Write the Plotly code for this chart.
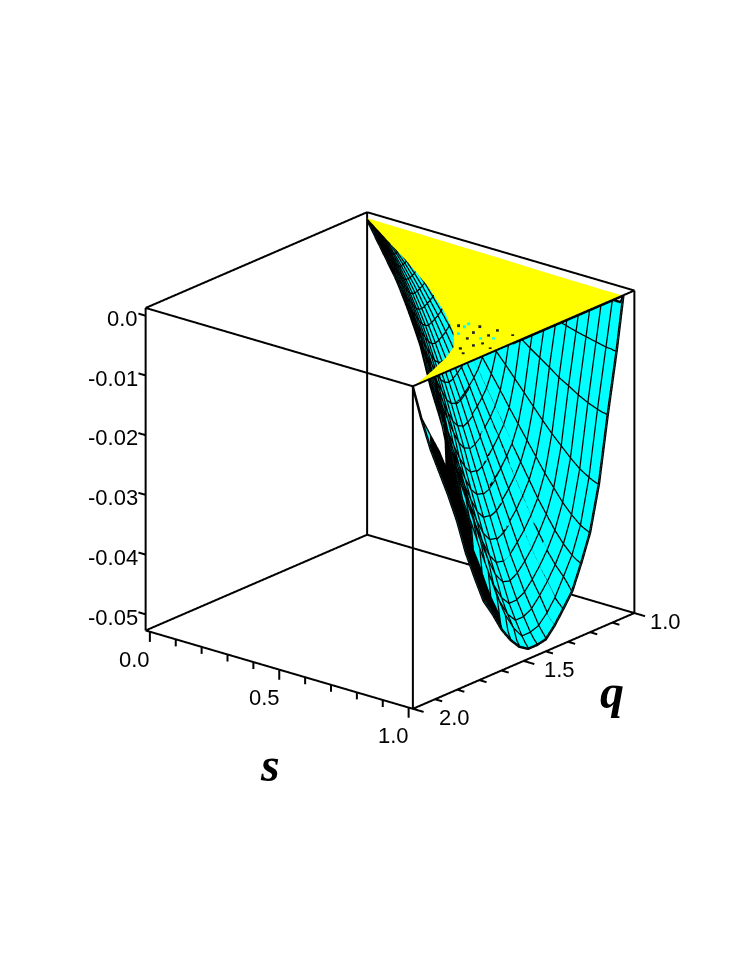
import plotly.graph_objects as go

# Values
S_TICKS = [0.0, 0.1, 0.2, 0.3, 0.4, 0.5, 0.6, 0.7, 0.8, 0.9, 1.0]
S_LABELS = ["0.0", "0.5", "1.0"]
S_LABEL_AT = [0.0, 0.5, 1.0]
Q_TICKS = [2.0, 1.9, 1.8, 1.7, 1.6, 1.5, 1.4, 1.3, 1.2, 1.1, 1.0]
Q_LABELS = ["2.0", "1.5", "1.0"]
Q_LABEL_AT = [2.0, 1.5, 1.0]
Q_LABEL_SHIFT = [42, 36, 31]
Z_TICKS = [0.0, -0.01, -0.02, -0.03, -0.04, -0.05]
Z_LABELS = ["0.0", "-0.01", "-0.02", "-0.03", "-0.04", "-0.05"]
Z_RANGE = [-0.0527, 0.0013]

# mesh: q = 1 + t * s
T_COLS = [0.05, 0.08, 0.12, 0.16, 0.20, 0.24, 0.28, 0.32, 0.36, 0.40, 0.44, 0.48, 0.52,
          0.56, 0.60, 0.64, 0.68, 0.72, 0.76, 0.80, 0.84, 0.88, 0.92, 0.96, 1.00]
S_ROWS = [0.0, 0.04, 0.08, 0.12, 0.16, 0.20, 0.24, 0.28, 0.32, 0.36, 0.40, 0.44, 0.48, 0.52,
          0.56, 0.60, 0.64, 0.68, 0.72, 0.76, 0.80, 0.84, 0.88, 0.92, 0.96, 0.98, 0.99, 1.00]
Z_ROWS = [
 [0,0,0,0,0,0,0,0,0,0,0,0,0,0,0,0,0,0,0,0,0],
 [0,0,-.0001,-.0002,-.0002,-.0002,-.0003,-.0003,-.0003,-.0003,-.0003,-.0003,-.0003,-.0003,-.0002,-.0002,-.0002,-.0001,-.0001,-.0001,0],
 [0,-.0001,-.0003,-.0004,-.0006,-.0006,-.0007,-.0007,-.0008,-.0008,-.0008,-.0008,-.0007,-.0007,-.0006,-.0005,-.0004,-.0004,-.0003,-.0001,0],
 [0,-.0002,-.0006,-.0009,-.0011,-.0013,-.0014,-.0014,-.0015,-.0016,-.0016,-.0016,-.0015,-.0014,-.0012,-.0011,-.0009,-.0007,-.0005,-.0003,-.0001],
 [0,-.0004,-.0009,-.0015,-.0018,-.0021,-.0022,-.0024,-.0025,-.0025,-.0026,-.0025,-.0024,-.0022,-.0020,-.0017,-.0015,-.0012,-.0009,-.0005,-.0001],
 [0,-.0006,-.0013,-.0021,-.0027,-.0030,-.0032,-.0034,-.0036,-.0037,-.0038,-.0037,-.0035,-.0032,-.0029,-.0025,-.0021,-.0018,-.0013,-.0007,-.0002],
 [0,-.0008,-.0018,-.0029,-.0037,-.0041,-.0044,-.0047,-.0049,-.0051,-.0051,-.0051,-.0048,-.0044,-.0039,-.0034,-.0029,-.0024,-.0017,-.0009,-.0002],
 [0,-.0010,-.0023,-.0038,-.0048,-.0054,-.0058,-.0061,-.0064,-.0066,-.0067,-.0066,-.0063,-.0057,-.0051,-.0045,-.0038,-.0032,-.0022,-.0012,-.0003],
 [0,-.0013,-.0030,-.0048,-.0061,-.0068,-.0074,-.0078,-.0081,-.0084,-.0085,-.0084,-.0080,-.0073,-.0065,-.0057,-.0048,-.0040,-.0028,-.0015,-.0003],
 [0,-.0016,-.0036,-.0059,-.0075,-.0084,-.0091,-.0096,-.0100,-.0103,-.0105,-.0103,-.0098,-.0090,-.0080,-.0070,-.0059,-.0050,-.0035,-.0019,-.0004],
 [0,-.0019,-.0044,-.0072,-.0090,-.0102,-.0109,-.0116,-.0121,-.0125,-.0127,-.0125,-.0118,-.0108,-.0097,-.0084,-.0072,-.0060,-.0042,-.0023,-.0005],
 [0,-.0022,-.0052,-.0085,-.0107,-.0121,-.0130,-.0137,-.0143,-.0148,-.0150,-.0148,-.0141,-.0128,-.0115,-.0100,-.0085,-.0071,-.0050,-.0027,-.0006],
 [0,-.0026,-.0061,-.0100,-.0126,-.0142,-.0152,-.0161,-.0168,-.0174,-.0176,-.0173,-.0165,-.0150,-.0134,-.0117,-.0100,-.0083,-.0059,-.0031,-.0007],
 [0,-.0030,-.0071,-.0115,-.0145,-.0163,-.0175,-.0185,-.0193,-.0200,-.0203,-.0200,-.0190,-.0173,-.0155,-.0135,-.0115,-.0096,-.0068,-.0036,-.0008],
 [0,-.0035,-.0081,-.0132,-.0166,-.0187,-.0201,-.0212,-.0222,-.0229,-.0233,-.0229,-.0217,-.0199,-.0177,-.0155,-.0132,-.0110,-.0078,-.0041,-.0009],
 [0,-.0039,-.0091,-.0148,-.0187,-.0211,-.0227,-.0240,-.0250,-.0258,-.0262,-.0258,-.0245,-.0224,-.0200,-.0175,-.0148,-.0124,-.0087,-.0047,-.0011],
 [0,-.0043,-.0101,-.0165,-.0209,-.0235,-.0252,-.0267,-.0278,-.0288,-.0292,-.0290,-.0277,-.0257,-.0232,-.0205,-.0177,-.0149,-.0115,-.0072,-.0030],
 [0,-.0048,-.0112,-.0182,-.0230,-.0259,-.0278,-.0294,-.0306,-.0317,-.0322,-.0319,-.0306,-.0283,-.0256,-.0226,-.0195,-.0164,-.0127,-.0080,-.0033],
 [0,-.0052,-.0122,-.0199,-.0251,-.0283,-.0304,-.0321,-.0335,-.0346,-.0351,-.0349,-.0334,-.0309,-.0280,-.0246,-.0213,-.0179,-.0138,-.0087,-.0036],
 [0,-.0057,-.0132,-.0216,-.0272,-.0306,-.0329,-.0348,-.0363,-.0375,-.0381,-.0378,-.0362,-.0335,-.0303,-.0267,-.0231,-.0194,-.0150,-.0094,-.0039],
 [0,-.0061,-.0143,-.0232,-.0293,-.0330,-.0355,-.0375,-.0391,-.0405,-.0411,-.0408,-.0390,-.0361,-.0327,-.0288,-.0249,-.0209,-.0162,-.0102,-.0042],
 [0,-.0065,-.0151,-.0246,-.0311,-.0350,-.0376,-.0398,-.0415,-.0429,-.0436,-.0432,-.0414,-.0383,-.0347,-.0305,-.0264,-.0222,-.0172,-.0108,-.0044],
 [0,-.0068,-.0160,-.0260,-.0329,-.0370,-.0398,-.0420,-.0438,-.0453,-.0460,-.0460,-.0444,-.0417,-.0381,-.0338,-.0296,-.0251,-.0209,-.0146,-.0078],
 [0,-.0071,-.0167,-.0272,-.0343,-.0386,-.0415,-.0438,-.0457,-.0473,-.0480,-.0480,-.0463,-.0435,-.0398,-.0353,-.0309,-.0262,-.0218,-.0152,-.0081],
 [0,-.0074,-.0172,-.0280,-.0354,-.0398,-.0428,-.0457,-.0478,-.0493,-.0498,-.0498,-.0478,-.0449,-.0410,-.0364,-.0319,-.0270,-.0225,-.0157,-.0084],
 [0,-.0074,-.0174,-.0283,-.0357,-.0402,-.0436,-.0463,-.0485,-.0500,-.0505,-.0505,-.0494,-.0473,-.0438,-.0401,-.0354,-.0311,-.0265,-.0210,-.0148],
 [0,-.0075,-.0174,-.0284,-.0358,-.0403,-.0441,-.0465,-.0487,-.0503,-.0507,-.0507,-.0497,-.0478,-.0452,-.0421,-.0380,-.0337,-.0290,-.0230,-.0160,-.0118,-.0085,-.0050,.0012],
 [.0012,-.0075,-.0175,-.0285,-.0360,-.0405,-.0445,-.0468,-.0490,-.0507,-.0510,-.0510,-.0500,-.0482,-.0458,-.0426,-.0398,-.0353,-.0305,-.0245,-.0195,-.0150,-.0105,-.0050,.0012],
]
# the rows packed against s=1 only show their mesh lines on the far branch
PACKED_ROWS = [0.98, 0.99]
PACKED_FROM_T = 0.68
# the far band where the mesh lines merge into solid black
BLACK_S_A = [0.80, 0.84, 0.88, 0.92, 0.96, 0.98, 0.99, 1.00]
BLACK_T_A = [0.72, 0.84]
BLACK_S_B = [0.98, 0.99, 1.00]
BLACK_T_B = [0.60, 0.92]
BLACK_LIFT = 0.0004

# flat yellow sheet near the top of the box
YELLOW_S = [0.0, 0.10, 0.20, 0.31, 0.50, 0.68, 0.80, 0.88, 0.92, 0.96, 0.98, 1.00]
YELLOW_TMAX = [0.65, 0.65, 0.65, 0.645, 0.66, 0.69, 0.72, 0.76, 0.82, 0.90, 0.95, 1.00]
YELLOW_Z = [0.0003, 0.0004, 0.0005, 0.0006, 0.0008, 0.0009, 0.0010, 0.0011, 0.0011, 0.0012, 0.0012, 0.0012]
YELLOW_TMIN = 0.05

# specks where the two sheets interleave
SPECK_S = [.787, .84, .857, .874, .906, .90, .96, .934, .942, .924, .977, .91]
SPECK_Q = [1.537, 1.505, 1.554, 1.602, 1.545, 1.4975, 1.501, 1.606, 1.703, 1.635, 1.623, 1.677]
CYAN_SPECK_S = [.806, .80, .828, .904, .933]
CYAN_SPECK_Q = [1.533, 1.507, 1.587, 1.578, 1.555]
SPECK_Z = 0.00125

CYAN = "#00FFFF"
YELLOW = "#FFFF00"
INK = "black"
MESH_W = 5
BOX_W = 4
S_INSET = 0.016


def flat(color):
    return dict(colorscale=[[0, color], [1, color]], showscale=False, cmin=0, cmax=1,
                lighting=dict(ambient=1, diffuse=0, specular=0, roughness=1, fresnel=0),
                hoverinfo="skip")


def u_of(q):
    return 2.0 - q   # scene y runs from q=2 to q=1


def line_trace(xs, ys, zs, width, color=INK):
    return go.Scatter3d(x=xs, y=ys, z=zs, mode="lines", line=dict(color=color, width=width),
                        hoverinfo="skip", showlegend=False, connectgaps=False)


# cyan mesh grid
grid_x, grid_y, grid_z = [], [], []
for s, row in zip(S_ROWS, Z_ROWS):
    grid_x.append([s] * len(T_COLS))
    grid_y.append([u_of(1 + t * s) for t in T_COLS])
    grid_z.append(list(row) + [None] * (len(T_COLS) - len(row)))

fig = go.Figure()
fig.add_trace(go.Surface(x=grid_x, y=grid_y, z=grid_z,
                         surfacecolor=[[0.5] * len(T_COLS) for _ in S_ROWS], **flat(CYAN)))

# black bands, slices of the same grid lifted just clear of the cyan
for rows, span in ((BLACK_S_A, BLACK_T_A), (BLACK_S_B, BLACK_T_B)):
    cols = [j for j, t in enumerate(T_COLS) if span[0] <= t <= span[1]]
    idx = [S_ROWS.index(s) for s in rows]
    fig.add_trace(go.Surface(x=[[grid_x[i][j] for j in cols] for i in idx],
                             y=[[grid_y[i][j] for j in cols] for i in idx],
                             z=[[None if grid_z[i][j] is None else grid_z[i][j] + BLACK_LIFT
                                 for j in cols] for i in idx],
                             surfacecolor=[[0.5] * len(cols) for _ in idx], **flat(INK)))

# yellow sheet
yx, yy, yz = [], [], []
for s, tm, z in zip(YELLOW_S, YELLOW_TMAX, YELLOW_Z):
    ts = [YELLOW_TMIN, (YELLOW_TMIN + tm) / 2, tm]
    yx.append([s] * 3)
    yy.append([u_of(1 + t * s) for t in ts])
    yz.append([z] * 3)
fig.add_trace(go.Surface(x=yx, y=yy, z=yz, surfacecolor=[[0.5] * 3 for _ in yx], **flat(YELLOW)))

# mesh lines
lx, ly, lz = [], [], []
for i, s in enumerate(S_ROWS):
    for j, t in enumerate(T_COLS):
        if grid_z[i][j] is not None and (s not in PACKED_ROWS or t >= PACKED_FROM_T):
            lx.append(grid_x[i][j]); ly.append(grid_y[i][j]); lz.append(grid_z[i][j])
    lx.append(None); ly.append(None); lz.append(None)
for j in range(len(T_COLS)):
    for i in range(len(S_ROWS)):
        if grid_z[i][j] is not None:
            lx.append(grid_x[i][j]); ly.append(grid_y[i][j]); lz.append(grid_z[i][j])
    lx.append(None); ly.append(None); lz.append(None)
fig.add_trace(line_trace(lx, ly, lz, MESH_W))

# chord along the near edge of the sheet
fig.add_trace(line_trace([1, 1], [u_of(1.05), u_of(1.55)], [0.00125, 0.00125], MESH_W))

# specks
fig.add_trace(go.Scatter3d(x=SPECK_S, y=[u_of(q) for q in SPECK_Q], z=[SPECK_Z] * len(SPECK_S),
                           mode="markers", marker=dict(size=1.5, color="#222222", symbol="square"),
                           hoverinfo="skip", showlegend=False))
fig.add_trace(go.Scatter3d(x=CYAN_SPECK_S, y=[u_of(q) for q in CYAN_SPECK_Q],
                           z=[SPECK_Z] * len(CYAN_SPECK_S), mode="markers",
                           marker=dict(size=1.5, color=CYAN, symbol="square"),
                           hoverinfo="skip", showlegend=False))

# box edges, from the axis ranges
z0, z1 = Z_RANGE
bx, by, bz = [], [], []
for a in (0, 1):
    for b in (0, 1):
        bx += [a, a, None]; by += [b, b, None]; bz += [z0, z1, None]
    for z in (z0, z1):
        bx += [a, a, None]; by += [0, 1, None]; bz += [z, z, None]
        bx += [0, 1, None]; by += [a, a, None]; bz += [z, z, None]
fig.add_trace(line_trace(bx, by, bz, BOX_W))

# tick marks
tx, ty, tz = [], [], []
for i, s in enumerate(S_TICKS):                       # s ticks hang below the front bottom edge
    p = S_INSET + (1 - 2 * S_INSET) * s
    dz = 0.0017 if i % 5 == 0 else 0.00117
    tx += [p, p, None]; ty += [0, 0, None]; tz += [z0, z0 - dz, None]
for i, q in enumerate(Q_TICKS):                       # q ticks point along +s
    d = 0.04 if i % 5 == 0 else 0.027
    tx += [1, 1 + d, None]; ty += [u_of(q), u_of(q), None]; tz += [z0, z0, None]
for z in Z_TICKS:                                     # z ticks point along -s
    tx += [0, -0.027, None]; ty += [0, 0, None]; tz += [z, z, None]
fig.add_trace(line_trace(tx, ty, tz, BOX_W))

label_font = dict(family="Liberation Sans", size=22, color="black")
labels = []
for s, text in zip(S_LABEL_AT, S_LABELS):
    labels.append(dict(x=S_INSET + (1 - 2 * S_INSET) * s, y=0, z=z0, text=text, showarrow=False,
                       font=label_font, xshift=-15, yshift=-28))
for q, text, dx in zip(Q_LABEL_AT, Q_LABELS, Q_LABEL_SHIFT):
    labels.append(dict(x=1, y=u_of(q), z=z0, text=text, showarrow=False, font=label_font,
                       xshift=dx, yshift=-9))
for z, text in zip(Z_TICKS, Z_LABELS):
    labels.append(dict(x=0, y=0, z=z, text=text, showarrow=False, font=label_font,
                       xanchor="right", xshift=-6, yshift=-3))

hidden = dict(visible=False)
EYE = 3.147
fig.update_layout(
    width=747, height=967, margin=dict(l=0, r=0, t=0, b=0),
    paper_bgcolor="white", showlegend=False,
    scene=dict(
        domain=dict(x=[0.044, 1.0], y=[0.048, 1.0]),
        aspectmode="manual", aspectratio=dict(x=0.902, y=0.908, z=0.916),
        camera=dict(projection=dict(type="orthographic"),
                    up=dict(x=0, y=0, z=1), center=dict(x=0, y=0, z=0),
                    eye=dict(x=0.564 * EYE, y=-0.685 * EYE, z=0.338 * EYE)),
        xaxis=dict(range=[-0.1, 1.1], **hidden),
        yaxis=dict(range=[-0.1, 1.1], **hidden),
        zaxis=dict(range=[z0 - 0.006, z1 + 0.006], **hidden),
        annotations=labels,
    ),
    annotations=[
        dict(text="<b><i>s</i></b>", xref="paper", yref="paper", x=270 / 747, y=1 - 793 / 967,
             showarrow=False, font=dict(family="Liberation Serif", size=48, color="black")),
        dict(text="<b><i>q</i></b>", xref="paper", yref="paper", x=626 / 747, y=1 - 720 / 967,
             showarrow=False, font=dict(family="Liberation Serif", size=48, color="black")),
    ],
)
fig.write_html("out.html", config=dict(displayModeBar=False),
               post_script="document.body.style.margin='0';")
